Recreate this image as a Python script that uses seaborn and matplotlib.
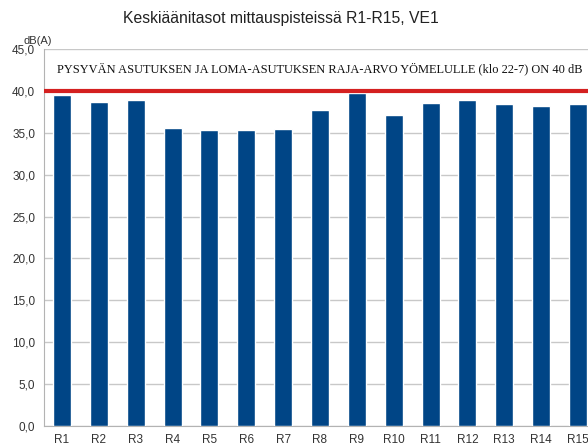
import numpy as np
import pandas as pd
import matplotlib.pyplot as plt
import seaborn as sns

# Measurement points and mean noise levels (dB(A))
points = ["R1", "R2", "R3", "R4", "R5", "R6", "R7", "R8",
          "R9", "R10", "R11", "R12", "R13", "R14", "R15"]
levels = [39.5, 38.7, 38.9, 35.6, 35.3, 35.3, 35.5, 37.7,
          39.7, 37.1, 38.6, 38.9, 38.4, 38.2, 38.4]
limit = 40.0
y_ticks = [0, 5, 10, 15, 20, 25, 30, 35, 40, 45]

title = "Keskiäänitasot mittauspisteissä R1-R15, VE1"
note = "PYSYVÄN ASUTUKSEN JA LOMA-ASUTUKSEN RAJA-ARVO YÖMELULLE (klo 22-7) ON 40 dB"

sns.set_style("white")
plt.rcParams["font.family"] = ["Liberation Sans", "DejaVu Sans"]

df = pd.DataFrame({"piste": points, "taso": levels})

fig = plt.figure(figsize=(5.88, 4.46), dpi=100)
# axes runs past the right edge like the cropped original
ax = fig.add_axes([43.6 / 588, 20 / 446, 552.8 / 588, 377 / 446])

sns.barplot(data=df, x="piste", y="taso", color="#004586", width=0.49,
            saturation=1, ax=ax, zorder=3)

ax.set_ylim(0, 45)
ax.set_xlim(-0.5, len(points) - 0.5)
ax.set_yticks(y_ticks)
ax.set_yticklabels([f"{v:.1f}".replace(".", ",") for v in y_ticks])
ax.grid(axis="y", color="#c8c8c8", linewidth=1, zorder=0)
ax.axhline(limit, color="#d42020", linewidth=3, zorder=4)

ax.set_xlabel("")
ax.set_ylabel("")
for side in ["top", "right"]:
    ax.spines[side].set_visible(False)
for side in ["left", "bottom"]:
    ax.spines[side].set_color("#b3b3b3")

ax.tick_params(axis="x", which="major", length=0, pad=6, labelsize=8.5, labelcolor="#333333")
ax.set_xticks(np.arange(-0.5, len(points)), minor=True)
ax.tick_params(axis="x", which="minor", length=4, color="#b3b3b3")
ax.tick_params(axis="y", length=4, color="#b3b3b3", labelsize=8.5, labelcolor="#333333", pad=2)

fig.text(0.478, 0.958, title, ha="center", va="center", fontsize=11.3, color="#222222")
fig.text(23 / 588, 1 - 41 / 446, "dB(A)", ha="left", va="center", fontsize=8, color="#333333")
fig.text(57 / 588, 1 - 69 / 446, note, ha="left", va="center", fontsize=8.9,
         family=["Liberation Serif", "DejaVu Serif"], color="#111111")

fig.savefig("out.png", dpi=100)
